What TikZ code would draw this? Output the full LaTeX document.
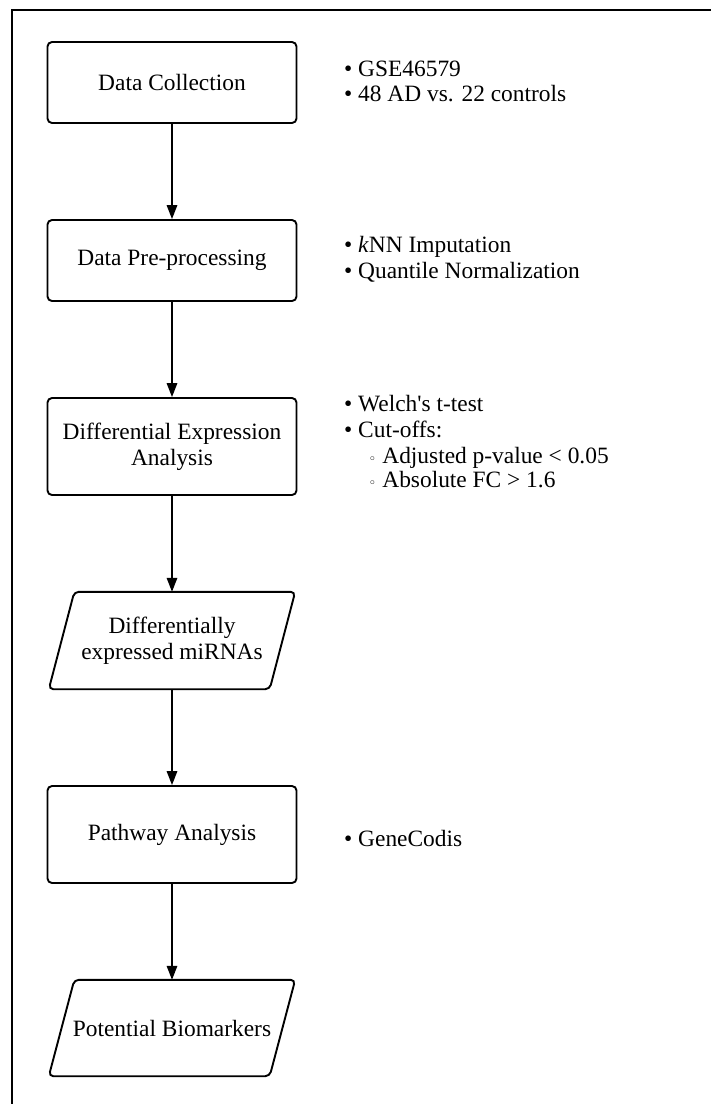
\documentclass[tikz,border=0pt]{standalone}
\usepackage{fontspec}
\newfontfamily\lsf{Liberation Serif}
\newfontfamily\symfont{DejaVu Sans}
\usetikzlibrary{arrows.meta}
\begin{document}
\begin{tikzpicture}[x=1pt,y=-1pt,
  every node/.style={font=\lsf\fontsize{23.4}{26}\selectfont, text=black},
  procbox/.style={draw, line width=1.9pt, rounded corners=4.5pt, minimum width=249pt, align=center, inner sep=0pt},
  iobox/.style={minimum width=246pt, minimum height=97pt, align=center, inner sep=0pt},
  iooutline/.style={line width=1.9pt, rounded corners=4.5pt},
  item/.style={anchor=base west, inner sep=0pt},
  flow/.style={line width=1.7pt, -{Triangle[length=14pt,width=10.5pt]}},
  frame/.style={line width=1.9pt}
]
\useasboundingbox (0,0) rectangle (711,1104);
\fill[white] (0,0) rectangle (711,1104);
\draw[frame] (12,1104) -- (12,10) -- (711,10);

% main flow
\node[procbox, minimum height=81pt] (dc) at (172,82.5) {Data Collection};
\node[procbox, minimum height=81pt] (dp) at (172,260.5) {Data Pre-processing};
\node[procbox, minimum height=97pt] (dea) at (172,446.5) {Differential Expression\\Analysis};
\node[iobox] (dem) at (172,640.5) {Differentially\\expressed miRNAs};
\draw[iooutline] ([xshift=25.5pt]dem.north west) -- (dem.north east) -- ([xshift=-25.5pt]dem.south east) -- (dem.south west) -- cycle;
\node[procbox, minimum height=97pt] (pa) at (172,834.5) {Pathway Analysis};
\node[iobox, minimum height=96pt] (pb) at (172,1028) {Potential Biomarkers};
\draw[iooutline] ([xshift=25.5pt]pb.north west) -- (pb.north east) -- ([xshift=-25.5pt]pb.south east) -- (pb.south west) -- cycle;

\draw[flow] (dc.south) -- (dp.north);
\draw[flow] (dp.south) -- (dea.north);
\draw[flow] (dea.south) -- (dem.north);
\draw[flow] (dem.south) -- (pa.north);
\draw[flow] (pa.south) -- (pb.north);

% annotations
\node[item] (a1) at (344,76) {• GSE46579};
\node[item] (a2) at (344,101) {• 48 AD vs. 22 controls};
\node[item] (b1) at (344,252) {• \textit{k}NN Imputation};
\node[item] (b2) at (344,278) {• Quantile Normalization};
\node[item] (c1) at (344,411) {• Welch's t-test};
\node[item] (c2) at (344,437) {• Cut-offs:};
\node[item] (c3) at (368.5,463) {{\symfont\fontsize{13}{13}\selectfont ◦}\hspace{6pt}Adjusted p-value < 0.05};
\node[item] (c4) at (368.5,487) {{\symfont\fontsize{13}{13}\selectfont ◦}\hspace{6pt}Absolute FC > 1.6};
\node[item] (d1) at (344,846) {• GeneCodis};
\end{tikzpicture}
\end{document}
